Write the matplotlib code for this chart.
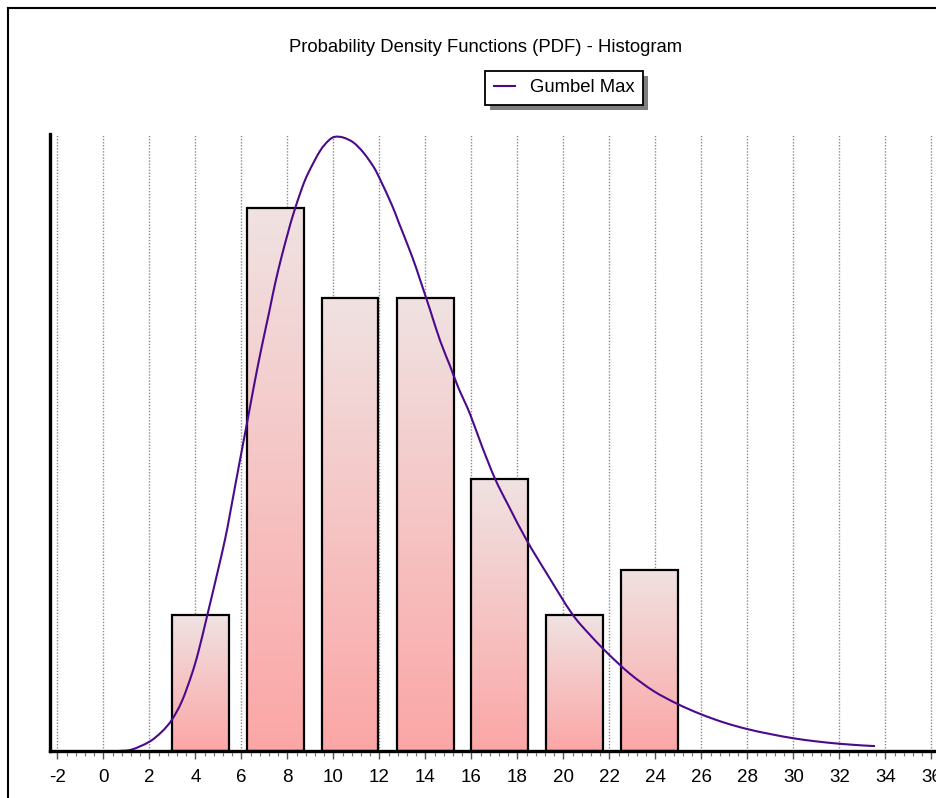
import numpy as np
import matplotlib
matplotlib.use("Agg")
import matplotlib.pyplot as plt
from matplotlib import font_manager
from matplotlib.patches import Rectangle, PathPatch
from matplotlib.path import Path
from matplotlib.lines import Line2D
from matplotlib.colors import LinearSegmentedColormap

# ---- data -------------------------------------------------------------
bin_centers = [4.21, 7.49, 10.73, 14.01, 17.23, 20.49, 23.75]
bin_width = 3.255
bar_density = [0.0192, 0.0768, 0.0640, 0.0640, 0.0384, 0.0192, 0.0256]

pdf_x = [0.64, 1.23, 2.00, 2.54, 2.97, 3.41, 3.84, 4.13, 4.50, 4.93, 5.29,
         5.51, 5.80, 6.09, 6.30, 6.60, 6.89, 7.22, 7.47, 7.76, 8.04, 8.26,
         8.63, 8.91, 9.42, 9.80, 10.07, 10.43, 10.87, 11.30, 11.74, 12.03,
         12.54, 12.83, 13.41, 13.77, 14.20, 14.64, 15.07, 15.43, 15.94,
         16.45, 17.03, 17.61, 18.41, 19.28, 20.37, 21.16, 21.96, 22.90,
         23.91, 24.93, 25.94, 26.96, 27.97, 28.99, 30.00, 31.02, 32.03,
         33.04, 33.55]
pdf_y = [0.00000, 0.00020, 0.00131, 0.00272, 0.00437, 0.00700, 0.01080,
         0.01400, 0.01894, 0.02480, 0.02990, 0.03360, 0.03869, 0.04370,
         0.04730, 0.05250, 0.05720, 0.06220, 0.06610, 0.07000, 0.07340,
         0.07590, 0.07950, 0.08170, 0.08480, 0.08630, 0.08680, 0.08670,
         0.08600, 0.08460, 0.08260, 0.08080, 0.07720, 0.07480, 0.07000,
         0.06660, 0.06240, 0.05800, 0.05445, 0.05139, 0.04764, 0.04316,
         0.03847, 0.03470, 0.02976, 0.02507, 0.01943, 0.01640, 0.01370,
         0.01090, 0.00850, 0.00670, 0.00525, 0.00405, 0.00312, 0.00240,
         0.00180, 0.00135, 0.00102, 0.00078, 0.00070]

x_ticks = list(range(-2, 37, 2))
title = "Probability Density Functions (PDF) - Histogram"
series_name = "Gumbel Max"

# ---- fonts --------------------------------------------------------------
available = {f.name for f in font_manager.fontManager.ttflist}
narrow = "Liberation Sans Narrow" if "Liberation Sans Narrow" in available else "Liberation Sans"
plt.rcParams["font.family"] = ["Liberation Sans", "DejaVu Sans"]
plt.rcParams["axes.unicode_minus"] = False

W, H = 937, 798
fig = plt.figure(figsize=(W / 100, H / 100), dpi=100)
fig.patch.set_facecolor("white")

# plot area (extends past the right edge of the canvas)
x_lo, x_hi = -2.32, 38.0
y_hi = 0.0872
px_per_unit = 23.0
ax_left, ax_bottom_px, ax_top_px = 50, 751, 134
ax = fig.add_axes([ax_left / W, 1 - ax_bottom_px / H,
                   (x_hi - x_lo) * px_per_unit / W,
                   (ax_bottom_px - ax_top_px) / H])
ax.patch.set_alpha(0)

# vertical dotted grid
ax.set_xticks(x_ticks)
ax.set_xticks(np.arange(-2, 38.01, 0.4), minor=True)
ax.xaxis.grid(True, which="major", color="#8a8a8a", linestyle=(0, (1, 1.2)),
              linewidth=1.0, zorder=0)
ax.set_axisbelow(True)
ax.set_yticks([])

for s in ("top", "right"):
    ax.spines[s].set_visible(False)
for s in ("left", "bottom"):
    ax.spines[s].set_linewidth(2.4)
    ax.spines[s].set_zorder(6)

ax.tick_params(axis="x", which="major", length=6, width=1.0, color="#555555",
               labelsize=13.5, pad=7, direction="out")
ax.tick_params(axis="x", which="minor", length=3.5, width=0.8, color="#777777",
               direction="out")

# histogram bars with vertical gradient
bar_w = bin_width * 0.757
cmap = LinearSegmentedColormap.from_list("barfill", ["#fca6a6", "#f0e2e2"])
grad = np.linspace(0, 1, 256).reshape(-1, 1)
bars = ax.bar(bin_centers, bar_density, width=bar_w, facecolor="none",
              edgecolor="black", linewidth=1.6, zorder=3)
for rect in bars:
    x0, y0 = rect.get_x(), rect.get_y()
    w, h = rect.get_width(), rect.get_height()
    im = ax.imshow(grad, cmap=cmap, origin="lower", aspect="auto",
                   extent=(x0, x0 + w, y0, y0 + h), zorder=2,
                   interpolation="bilinear")
    im.set_clip_path(rect)
ax.set_xlim(x_lo, x_hi)
ax.set_ylim(0, y_hi)


def smooth_path(xs, ys):
    """Catmull-Rom curve through the points, expressed as cubic Beziers."""
    pts = np.column_stack([xs, ys])
    verts = [pts[0]]
    codes = [Path.MOVETO]
    n = len(pts)
    for i in range(n - 1):
        p0 = pts[max(i - 1, 0)]
        p1 = pts[i]
        p2 = pts[i + 1]
        p3 = pts[min(i + 2, n - 1)]
        c1 = p1 + (p2 - p0) / 6.0
        c2 = p2 - (p3 - p1) / 6.0
        verts += [c1, c2, p2]
        codes += [Path.CURVE4] * 3
    return Path(verts, codes)


# fitted density curve
curve_color = "#4b0a8c"
ax.add_patch(PathPatch(smooth_path(pdf_x, pdf_y), facecolor="none",
                       edgecolor=curve_color, linewidth=1.5, zorder=4))
handle = Line2D([], [], color=curve_color, linewidth=1.5)

# title
fig.text(486 / W, 1 - 47 / H, title, ha="center", va="center",
         fontsize=13.3, family=[narrow, "DejaVu Sans"])

# legend with drop shadow
leg = fig.legend(handles=[handle], labels=[series_name], loc="center",
                 bbox_to_anchor=(564 / W, 1 - 88 / H), frameon=True,
                 fancybox=False, shadow=False, edgecolor="black",
                 framealpha=1, borderpad=0.45, handlelength=1.15,
                 handletextpad=0.8, borderaxespad=0,
                 prop={"family": [narrow, "DejaVu Sans"], "size": 13.3})
leg.get_frame().set_linewidth(1.3)
leg.set_zorder(6)
fig.canvas.draw()
bb = leg.get_window_extent()
shadow = Rectangle((bb.x0 + 5, bb.y0 - 5), bb.width, bb.height,
                   transform=None, facecolor="#7f7f7f", edgecolor="none",
                   zorder=5)
fig.patches.append(shadow)

# outer frame of the chart panel
fig.add_artist(Line2D([8 / W, 8 / W], [0, 1 - 8 / H], color="black",
                      linewidth=1.5, transform=fig.transFigure))
fig.add_artist(Line2D([8 / W, 1], [1 - 8 / H, 1 - 8 / H], color="black",
                      linewidth=1.5, transform=fig.transFigure))

fig.savefig("out.png", dpi=100)
